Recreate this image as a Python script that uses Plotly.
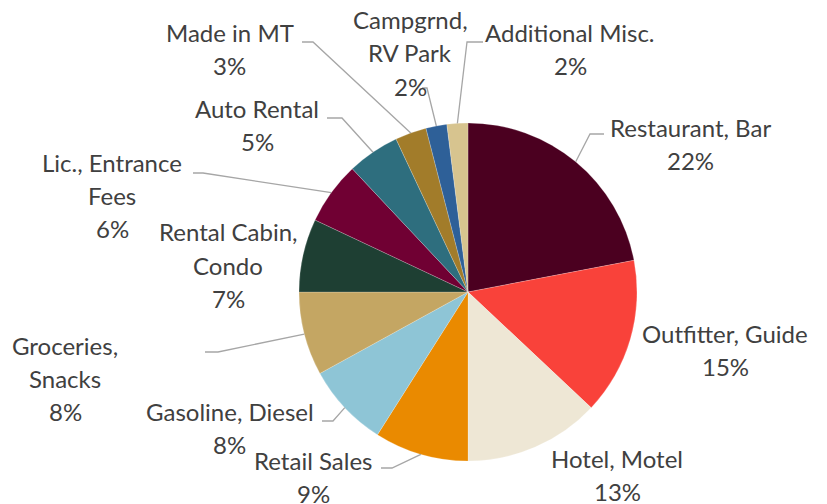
import math
import plotly.graph_objects as go

categories = ['Restaurant, Bar', 'Outfitter, Guide', 'Hotel, Motel', 'Retail Sales',
              'Gasoline, Diesel', 'Groceries, Snacks', 'Rental Cabin, Condo',
              'Lic., Entrance Fees', 'Auto Rental', 'Made in MT', 'Campgrnd, RV Park',
              'Additional Misc.']
shares = [22, 15, 13, 9, 8, 8, 7, 6, 5, 3, 2, 2]
label_lines = [['Restaurant, Bar'], ['Outfitter, Guide'], ['Hotel, Motel'], ['Retail Sales'],
               ['Gasoline, Diesel'], ['Groceries,', 'Snacks'], ['Rental Cabin,', 'Condo'],
               ['Lic., Entrance', 'Fees'], ['Auto Rental'], ['Made in MT'],
               ['Campgrnd,', 'RV Park'], ['Additional Misc.']]
colors = ['#4B0020', '#F9423A', '#EEE7D5', '#EA8A00', '#8EC5D6', '#C4A663',
          '#1E3F33', '#700033', '#2E6E7E', '#A27C2A', '#2E6098', '#D7C48F']

W, H = 827, 504
cx, cy, R = 468, 292, 169
# label block centre (px) and first line y
label_x = [690, 725, 617, 313, 230, 65, 228, 112, 257, 230, 410, 570]
label_y0 = [127, 333, 458, 460, 411, 345, 232, 163, 108, 32, 20, 32]
line_h = 33
# leader line end at the text and elbow point (None = no leader)
leaders = [((604, 134), (590, 134)), None, None, ((381, 468), (392, 468)),
           ((322, 421), (333, 421)), ((205, 352), (218, 352)), None,
           ((193, 173), (203, 173)), ((327, 118), (342, 118)), ((302, 42), (313, 42)),
           ((422, 88), (427, 88)), ((483, 42), (467, 42))]


def px(x, y):
    return x / W, 1 - y / H


fig = go.Figure(go.Pie(
    labels=categories, values=shares, sort=False, direction='clockwise',
    marker=dict(colors=colors, line=dict(color='rgba(255,255,255,0.4)', width=0.5)),
    textinfo='none', hoverinfo='label+percent',
    domain=dict(x=[(cx - R) / W, (cx + R) / W], y=[1 - (cy + R) / H, 1 - (cy - R) / H]),
))

total = sum(shares)
annotations = []
shapes = []
cum = 0
for i, v in enumerate(shares):
    pct = round(100 * v / total)
    lines = label_lines[i] + [f'{pct}%']
    for k, t in enumerate(lines):
        x, y = px(label_x[i], label_y0[i] + k * line_h)
        annotations.append(dict(x=x, y=y, xref='paper', yref='paper', text=t,
                                showarrow=False, xanchor='center', yanchor='middle',
                                font=dict(family='Lato', size=24, color='#404040')))
    mid = 2 * math.pi * (cum + v / 2) / total
    cum += v
    if leaders[i]:
        sx, sy = cx + R * math.sin(mid), cy - R * math.cos(mid)
        (ex, ey), (bx, by) = leaders[i]
        p = [px(sx, sy), px(bx, by), px(ex, ey)]
        path = 'M {} {} L {} {} L {} {}'.format(p[0][0], p[0][1], p[1][0], p[1][1], p[2][0], p[2][1])
        shapes.append(dict(type='path', path=path, xref='paper', yref='paper',
                           line=dict(color='#A6A6A6', width=1.3)))

fig.update_layout(
    width=W, height=H, autosize=False,
    margin=dict(l=0, r=0, t=0, b=0),
    showlegend=False,
    paper_bgcolor='white',
    annotations=annotations,
    shapes=shapes,
)
fig.write_html('out.html', config={'displayModeBar': False},
               post_script="document.body.style.margin='0';")
